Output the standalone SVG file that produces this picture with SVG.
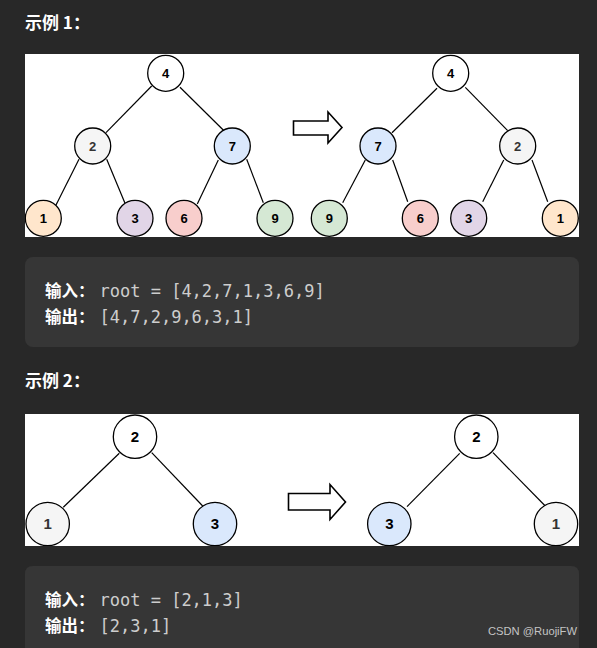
<svg xmlns="http://www.w3.org/2000/svg" width="597" height="648" viewBox="0 0 597 648">
<defs>
<style>
.h{font-family:"Noto Sans CJK SC","Liberation Sans",sans-serif;font-weight:bold;font-size:17px;fill:#ffffff}
.lb{font-family:"Noto Sans CJK SC","Liberation Sans",sans-serif;font-weight:bold;font-size:16.5px;fill:#ffffff}
.mono{font-family:"DejaVu Sans Mono","Liberation Mono",monospace;font-size:17px;fill:#cdcdcd}
.e{stroke:#000;stroke-width:1.2;fill:none}
.n{stroke:#000;stroke-width:1.3}
.t1{font-family:"Liberation Sans",Arial,sans-serif;font-weight:bold;font-size:13px;text-anchor:middle;fill:#000}
.t2{font-family:"Liberation Sans",Arial,sans-serif;font-weight:bold;font-size:15px;text-anchor:middle;fill:#000}
.g{fill:#333}
.arrow{fill:#fff;stroke:#000;stroke-width:1.6;stroke-linejoin:miter}
</style>
<clipPath id="c1"><rect x="25" y="54" width="554" height="183"/></clipPath>
<clipPath id="c2"><rect x="25" y="414" width="554" height="132"/></clipPath>
</defs>
<rect width="597" height="648" fill="#282828"/>

<text class="h" x="25" y="28.5">示例 1：</text>
<rect x="25" y="54" width="554" height="183" fill="#ffffff"/>

<g id="connectors1" clip-path="url(#c1)">
<line class="e" x1="151.7" y1="86" x2="106" y2="132.7"/>
<line class="e" x1="180" y1="87.3" x2="225" y2="131.7"/>
<line class="e" x1="79" y1="159.3" x2="56" y2="205"/>
<line class="e" x1="106.7" y1="159.3" x2="125" y2="203.3"/>
<line class="e" x1="218.3" y1="160" x2="197.3" y2="204"/>
<line class="e" x1="246.7" y1="159.3" x2="263.3" y2="202.7"/>
<line class="e" x1="437" y1="88.3" x2="392" y2="132.7"/>
<line class="e" x1="465.3" y1="87.3" x2="507.7" y2="130.7"/>
<line class="e" x1="365.3" y1="160" x2="342.7" y2="202.7"/>
<line class="e" x1="392.7" y1="160" x2="407.7" y2="201.7"/>
<line class="e" x1="503.7" y1="160" x2="482.7" y2="201.7"/>
<line class="e" x1="532" y1="160" x2="547.7" y2="201.7"/>
</g>

<g clip-path="url(#c1)">
<g id="a4"><circle class="n" cx="165.7" cy="73.3" r="18" fill="#ffffff"/><text class="t1" x="165.7" y="77.9">4</text></g>
<g id="a2"><circle class="n" cx="92.7" cy="146" r="18" fill="#f5f5f5"/><text class="t1 g" x="92.7" y="150.6">2</text></g>
<g id="a7"><circle class="n" cx="232.3" cy="146" r="18" fill="#dae8fc"/><text class="t1" x="232.3" y="150.6">7</text></g>
<g id="a1"><circle class="n" cx="43.3" cy="218.3" r="18" fill="#ffe6cc"/><text class="t1" x="43.3" y="222.9">1</text></g>
<g id="a3"><circle class="n" cx="135" cy="218.3" r="18" fill="#e1d5e7"/><text class="t1" x="135" y="222.9">3</text></g>
<g id="a6"><circle class="n" cx="184" cy="218.3" r="18" fill="#f8cecc"/><text class="t1" x="184" y="222.9">6</text></g>
<g id="a9"><circle class="n" cx="275" cy="218.3" r="18" fill="#d5e8d4"/><text class="t1" x="275" y="222.9">9</text></g>

<g id="b4"><circle class="n" cx="450.7" cy="73.3" r="18" fill="#ffffff"/><text class="t1" x="450.7" y="77.9">4</text></g>
<g id="b7"><circle class="n" cx="378" cy="146" r="18" fill="#dae8fc"/><text class="t1" x="378" y="150.6">7</text></g>
<g id="b2"><circle class="n" cx="517.7" cy="146" r="18" fill="#f5f5f5"/><text class="t1 g" x="517.7" y="150.6">2</text></g>
<g id="b9"><circle class="n" cx="329.3" cy="218.3" r="18" fill="#d5e8d4"/><text class="t1" x="329.3" y="222.9">9</text></g>
<g id="b6"><circle class="n" cx="420.3" cy="218.3" r="18" fill="#f8cecc"/><text class="t1" x="420.3" y="222.9">6</text></g>
<g id="b3"><circle class="n" cx="468.7" cy="218.3" r="18" fill="#e1d5e7"/><text class="t1" x="468.7" y="222.9">3</text></g>
<g id="b1"><circle class="n" cx="560.3" cy="218.3" r="18" fill="#ffe6cc"/><text class="t1" x="560.3" y="222.9">1</text></g>
</g>

<g id="arrow1"><path class="arrow" d="M293.5,121 H328 V112 L342,127.5 L328,143 V135 H293.5 Z"/></g>

<rect x="25" y="257" width="554" height="90" rx="8" fill="#363636"/>
<text class="lb" x="45" y="296.5">输入：</text>
<text class="mono" x="99.5" y="296.5">root = [4,2,7,1,3,6,9]</text>
<text class="lb" x="45" y="322.5">输出：</text>
<text class="mono" x="99.5" y="322.5">[4,7,2,9,6,3,1]</text>

<text class="h" x="25" y="387">示例 2：</text>
<rect x="25" y="414" width="554" height="132" fill="#ffffff"/>

<g id="connectors2" clip-path="url(#c2)">
<line class="e" x1="119.3" y1="453.3" x2="63.3" y2="507.3"/>
<line class="e" x1="151.7" y1="452.7" x2="202.7" y2="506"/>
<line class="e" x1="459.7" y1="453.3" x2="407" y2="506.7"/>
<line class="e" x1="493" y1="452.7" x2="545.3" y2="506"/>
</g>

<g clip-path="url(#c2)">
<g id="c2n2"><circle class="n" cx="135" cy="436.7" r="21.7" fill="#ffffff"/><text class="t2" x="135" y="442">2</text></g>
<g id="c2n1"><circle class="n" cx="47.7" cy="524" r="21.7" fill="#f5f5f5"/><text class="t2 g" x="47.7" y="529.3">1</text></g>
<g id="c2n3"><circle class="n" cx="215" cy="524" r="21.7" fill="#dae8fc"/><text class="t2" x="215" y="529.3">3</text></g>
<g id="d2n2"><circle class="n" cx="476.3" cy="436.7" r="21.7" fill="#ffffff"/><text class="t2" x="476.3" y="442">2</text></g>
<g id="d2n3"><circle class="n" cx="389.3" cy="524" r="21.7" fill="#dae8fc"/><text class="t2" x="389.3" y="529.3">3</text></g>
<g id="d2n1"><circle class="n" cx="556" cy="524" r="21.7" fill="#f5f5f5"/><text class="t2 g" x="556" y="529.3">1</text></g>
</g>

<g id="arrow2"><path class="arrow" d="M288.5,493.5 H330 V484.5 L345.5,502 L330,519.5 V510 H288.5 Z"/></g>

<path d="M25,574 Q25,566 33,566 H571 Q579,566 579,574 V660 H25 Z" fill="#363636"/>
<text class="lb" x="45" y="605.5">输入：</text>
<text class="mono" x="99.5" y="605.5">root = [2,1,3]</text>
<text class="lb" x="45" y="631.5">输出：</text>
<text class="mono" x="99.5" y="631.5">[2,3,1]</text>

<text x="577" y="635" font-family="'Liberation Sans',Arial,sans-serif" font-size="11.2" fill="#c4c4c4" text-anchor="end">CSDN @RuojiFW</text>
</svg>
